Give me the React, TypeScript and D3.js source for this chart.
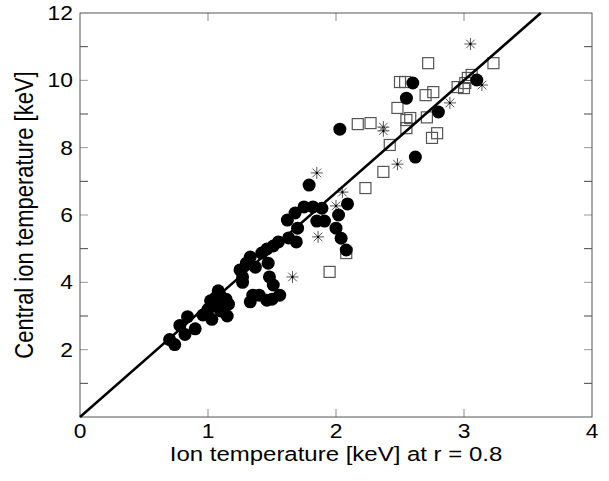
import React from "react";
import * as d3 from "d3";

const circles: [number, number][] = [
  [0.70, 2.30], [0.74, 2.15], [0.78, 2.72], [0.84, 2.98], [0.82, 2.45], [0.90, 2.62],
  [0.96, 3.03], [1.00, 3.20], [1.03, 2.90], [1.05, 3.30], [1.06, 3.55], [1.08, 3.75],
  [1.09, 3.65], [1.10, 3.40], [1.12, 3.25], [1.14, 3.50], [1.15, 3.00], [1.16, 3.35],
  [1.10, 3.15], [1.02, 3.45], [1.25, 4.37], [1.27, 4.16], [1.30, 4.57], [1.33, 4.75],
  [1.37, 4.45], [1.27, 4.00], [1.33, 3.42], [1.35, 3.62], [1.40, 3.62], [1.46, 3.47],
  [1.56, 3.62], [1.50, 3.50], [1.42, 4.87], [1.46, 4.99], [1.47, 4.57], [1.48, 4.16],
  [1.51, 3.92], [1.51, 5.08], [1.55, 5.20], [1.63, 5.32], [1.69, 5.20], [1.70, 5.61],
  [1.62, 5.85], [1.68, 6.06], [1.75, 6.24], [1.82, 6.24], [1.89, 6.20], [1.85, 5.82],
  [1.91, 5.82], [1.79, 6.89], [2.09, 6.33], [2.02, 6.00], [2.00, 5.61], [2.04, 5.31],
  [2.08, 4.96], [2.03, 8.55], [2.62, 7.72], [2.60, 9.92], [2.55, 9.47], [2.80, 9.06],
  [3.10, 10.01],
];

const squares: [number, number][] = [
  [1.95, 4.31], [2.08, 4.87], [2.23, 6.80], [2.37, 7.28], [2.42, 8.08], [2.17, 8.70],
  [2.27, 8.73], [2.50, 9.95], [2.54, 9.95], [2.72, 10.51], [3.23, 10.51], [3.06, 10.16],
  [3.03, 10.07], [3.01, 9.92], [2.95, 9.80], [3.00, 9.77], [2.70, 9.56], [2.76, 9.65],
  [2.48, 9.18], [2.55, 8.82], [2.58, 8.88], [2.71, 8.90], [2.55, 8.58], [2.79, 8.43],
  [2.75, 8.29],
];

const stars: [number, number][] = [
  [1.85, 7.25], [1.66, 4.16], [1.86, 5.35], [2.05, 6.68], [2.00, 6.27], [2.37, 8.61],
  [2.37, 8.50], [2.48, 7.51], [2.89, 9.33], [3.05, 11.08], [3.14, 9.86],
];

const xTicks = [0, 1, 2, 3, 4];
const yTicks = [2, 4, 6, 8, 10, 12];
const yMinor = [1, 3, 5, 7, 9, 11];
const fitLine: [number, number][] = [[0, 0], [3.6, 12]];

export default function App() {
  const W = 609, H = 481;
  const L = 80, R = 592, T = 13, B = 417;
  const x = d3.scaleLinear().domain([0, 4]).range([L, R]);
  const y = d3.scaleLinear().domain([0, 12]).range([B, T]);
  const line = d3.line<[number, number]>().x(d => x(d[0])).y(d => y(d[1]));
  const font = "'Liberation Sans', Arial, Helvetica, sans-serif";
  const tk = 8;
  const s = 6;
  const h = 5.5;
  const sx = 1.17;
  return (
    <svg width={W} height={H} style={{ position: "absolute", left: 0, top: 0 }}>
      <rect x={0} y={0} width={W} height={H} fill="#fff" />
      {[1, 2, 3].map(v => (
        <g key={"xt" + v}>
          <line x1={x(v)} x2={x(v)} y1={B} y2={B - tk} stroke="#888" strokeWidth={1} />
          <line x1={x(v)} x2={x(v)} y1={T} y2={T + tk} stroke="#888" strokeWidth={1} />
        </g>
      ))}
      {yTicks.concat(yMinor).filter(v => v < 12).map(v => (
        <g key={"yt" + v}>
          <line x1={L} x2={L + tk} y1={y(v)} y2={y(v)} stroke={v % 2 === 0 ? "#999" : "#444"} strokeWidth={1} />
          <line x1={R} x2={R - tk} y1={y(v)} y2={y(v)} stroke={v % 2 === 0 ? "#999" : "#444"} strokeWidth={1} />
        </g>
      ))}
      <rect x={L} y={T} width={R - L} height={B - T} fill="none" stroke="#555" strokeWidth={1} />
      {squares.map((d, i) => (
        <rect key={"s" + i} x={x(d[0]) - h} y={y(d[1]) - h} width={2 * h} height={2 * h}
          fill="none" stroke="#555" strokeWidth={1.2} />
      ))}
      {stars.map((d, i) => {
        const cx = x(d[0]), cy = y(d[1]);
        const a = s * 0.72;
        return (
          <g key={"a" + i} stroke="#555" strokeWidth={1}>
            <line x1={cx - s} x2={cx + s} y1={cy} y2={cy} />
            <line x1={cx} x2={cx} y1={cy - s} y2={cy + s} />
            <line x1={cx - a} x2={cx + a} y1={cy - a} y2={cy + a} />
            <line x1={cx - a} x2={cx + a} y1={cy + a} y2={cy - a} />
            <circle cx={cx} cy={cy} r={1.2} fill="#000" stroke="none" />
          </g>
        );
      })}
      {circles.map((d, i) => (
        <circle key={"c" + i} cx={x(d[0])} cy={y(d[1])} r={6.5} fill="#000" />
      ))}
      <path d={line(fitLine) || ""} stroke="#000" strokeWidth={2.5} fill="none" />
      {xTicks.map(v => (
        <text key={"xl" + v} transform={`translate(${x(v)},438) scale(${sx},1)`} textAnchor="middle"
          fontFamily={font} fontSize={19.5} fill="#000">{v}</text>
      ))}
      {yTicks.map(v => (
        <text key={"yl" + v} transform={`translate(73,${y(v) + 7}) scale(${sx},1)`} textAnchor="end"
          fontFamily={font} fontSize={19.5} fill="#000">{v}</text>
      ))}
      <text transform={`translate(${(L + R) / 2},461) scale(${sx},1)`} textAnchor="middle" fontFamily={font}
        fontSize={20.5} fill="#000">Ion temperature [keV] at r = 0.8</text>
      <text transform={`translate(33, ${(T + B) / 2}) rotate(-90) scale(1,${sx})`} textAnchor="middle"
        fontFamily={font} fontSize={22} fill="#000">Central ion temperature [keV]</text>
    </svg>
  );
}
